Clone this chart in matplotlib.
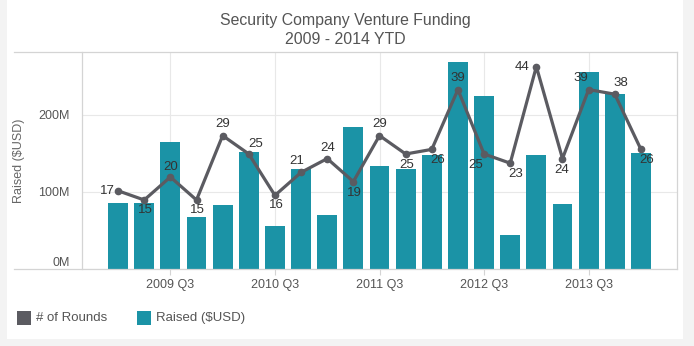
import matplotlib
matplotlib.use("Agg")
import matplotlib.pyplot as plt
from matplotlib.lines import Line2D
from matplotlib.patches import Rectangle
import numpy as np

plt.rcParams['font.family'] = ['Liberation Sans', 'DejaVu Sans']

quarters = ["2009 Q1", "2009 Q2", "2009 Q3", "2009 Q4",
            "2010 Q1", "2010 Q2", "2010 Q3", "2010 Q4",
            "2011 Q1", "2011 Q2", "2011 Q3", "2011 Q4",
            "2012 Q1", "2012 Q2", "2012 Q3", "2012 Q4",
            "2013 Q1", "2013 Q2", "2013 Q3", "2013 Q4",
            "2014 Q1"]
raised_musd = [86, 86, 165, 67, 83, 152, 56, 130, 70, 184, 134,
               130, 148, 269, 225, 44, 148, 84, 256, 227, 150]
rounds = [17, 15, 20, 15, 29, 25, 16, 21, 24, 19, 29, 25, 26,
          39, 25, 23, 44, 24, 39, 38, 26]
tick_labels = ["2009 Q3", "2010 Q3", "2011 Q3", "2012 Q3", "2013 Q3"]
ytick_vals = [0, 100, 200]
ytick_labels = ["0M", "100M", "200M"]

# label offsets in pixels (dx right, dy down) - styling only
label_offsets = [(-11, 0), (1, 10), (0, -10), (1, 10), (0, -12), (7, -10),
                 (1, 10), (-4, -11), (0, -11), (1, 11), (0, -12), (1, 11),
                 (6, 11), (0, -12), (-8, 11), (5, 11), (-14, 0), (-1, 11),
                 (-8, -12), (6, -11), (6, 11)]

BAR = "#1b93a6"
LINE = "#5b5b61"
TXT = "#555555"
GRID = "#e8e8e8"
FRAME = "#d4d4d4"

W, H = 694, 346
fig = plt.figure(figsize=(W / 100, H / 100), dpi=100)
fig.patch.set_facecolor("#f3f3f3")
fig.patches.append(Rectangle((7 / W, 1 - 339 / H), (683 - 7) / W, 339 / H,
                             transform=fig.transFigure, facecolor="white",
                             edgecolor="none", zorder=-10))

L, R, T, B = 82, 677, 52, 269
ax = fig.add_axes([L / W, 1 - B / H, (R - L) / W, (B - T) / H])
ax.set_facecolor("none")
x = np.arange(len(quarters))
ax.bar(x, raised_musd, width=0.76, color=BAR, zorder=2)
ax.set_xlim(-1.38, len(quarters) - 1 + 1.38)
ax.set_ylim(0, 281.8)

ax.set_yticks(ytick_vals)
ax.set_yticklabels(ytick_labels)
for lab, v in zip(ax.get_yticklabels(), ytick_vals):
    if v == 0:
        lab.set_verticalalignment("bottom")
ax.tick_params(axis="y", length=0, pad=9, labelsize=9, labelcolor=TXT)
tick_pos = [quarters.index(t) for t in tick_labels]
ax.set_xticks(tick_pos)
ax.set_xticklabels(tick_labels)
ax.tick_params(axis="x", length=4, width=0.8, color=FRAME, pad=3,
               labelsize=9, labelcolor=TXT)
ax.grid(True, color=GRID, linewidth=0.8, zorder=0)
ax.set_axisbelow(True)
for s in ["top", "bottom"]:
    ax.spines[s].set_visible(False)
for s in ["left", "right"]:
    ax.spines[s].set_color(FRAME)
    ax.spines[s].set_linewidth(0.9)
ax.set_ylabel("Raised ($USD)", color="#666666", fontsize=9)
ax.yaxis.set_label_coords((25 - L) / (R - L), 0.5)

# frame lines spanning the label area
for yy in (T, B):
    fig.add_artist(Line2D([14 / W, R / W], [1 - yy / H, 1 - yy / H],
                          transform=fig.transFigure, color=FRAME, lw=0.9))

ax2 = ax.twinx()
ax2.set_ylim(0, 47.17)
ax2.plot(x, rounds, color=LINE, lw=2.3, marker="o", markersize=4.5, zorder=3)
ax2.set_yticks([])
for s in ax2.spines.values():
    s.set_visible(False)
for xi, v, (dx, dy) in zip(x, rounds, label_offsets):
    ax2.annotate(str(v), (xi, v), xytext=(dx * 0.72, -dy * 0.72),
                 textcoords="offset points", ha="center", va="center",
                 fontsize=9.5, color="#333333", zorder=4)

# titles
fig.text(345 / W, 1 - 20 / H, "Security Company Venture Funding",
         ha="center", va="center", fontsize=11.4, color=TXT)
fig.text(345 / W, 1 - 39 / H, "2009 - 2014 YTD",
         ha="center", va="center", fontsize=11.4, color=TXT)

# legend
for x0, col, txt in [(17, LINE, "# of Rounds"), (137, BAR, "Raised ($USD)")]:
    fig.patches.append(Rectangle((x0 / W, 1 - 325 / H), 14 / W, 14 / H,
                                 transform=fig.transFigure, facecolor=col,
                                 edgecolor="none"))
    fig.text((x0 + 19) / W, 1 - 318 / H, txt, ha="left", va="center",
             fontsize=9.5, color=TXT)

fig.savefig("out.png", dpi=100, facecolor=fig.get_facecolor())
